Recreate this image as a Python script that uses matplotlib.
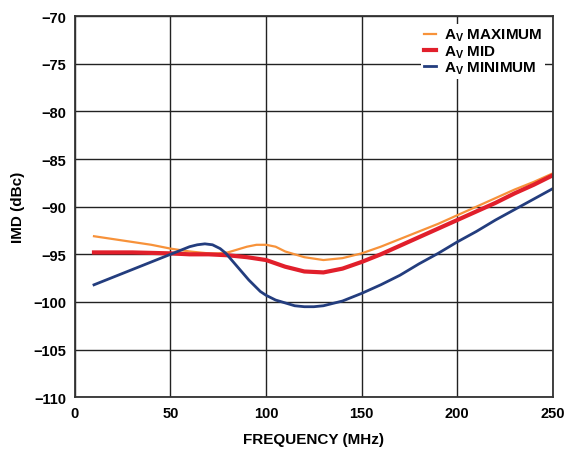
import matplotlib
matplotlib.use("Agg")
import matplotlib.pyplot as plt

plt.rcParams['font.family'] = ['Liberation Sans', 'DejaVu Sans']
plt.rcParams['font.weight'] = 'bold'
plt.rcParams['mathtext.fontset'] = 'custom'
plt.rcParams['mathtext.bf'] = 'Liberation Sans:bold'
plt.rcParams['mathtext.rm'] = 'Liberation Sans:bold'
plt.rcParams['mathtext.default'] = 'bf'

freq_max = [10, 20, 30, 40, 50, 60, 70, 75, 80, 85, 90, 95, 100, 105, 110, 120, 130, 140,
            150, 160, 170, 180, 190, 200, 210, 220, 230, 240, 250]
imd_max = [-93.1, -93.4, -93.7, -94.0, -94.4, -94.7, -94.9, -94.9, -94.8, -94.5, -94.2,
           -94.0, -94.0, -94.2, -94.7, -95.3, -95.6, -95.4, -94.9, -94.2, -93.4, -92.6,
           -91.8, -90.9, -90.0, -89.1, -88.2, -87.4, -86.5]

freq_mid = [10, 30, 50, 60, 70, 80, 90, 100, 110, 120, 130, 140, 150, 160, 170, 180,
            190, 200, 210, 220, 230, 240, 250]
imd_mid = [-94.8, -94.8, -94.9, -95.0, -95.0, -95.1, -95.3, -95.6, -96.3, -96.8, -96.9,
           -96.5, -95.8, -95.0, -94.1, -93.2, -92.3, -91.4, -90.5, -89.6, -88.6, -87.7,
           -86.7]

freq_min = [10, 20, 30, 40, 50, 55, 60, 64, 68, 72, 76, 79, 82, 85, 88, 91, 94, 97, 100,
            105, 110, 115, 120, 125, 130, 140, 150, 160, 170, 180, 190, 200, 210, 220,
            230, 240, 250]
imd_min = [-98.2, -97.4, -96.6, -95.8, -95.0, -94.6, -94.2, -94.0, -93.9, -94.0, -94.4,
           -94.9, -95.6, -96.3, -97.0, -97.7, -98.3, -98.9, -99.3, -99.8, -100.1, -100.4,
           -100.5, -100.5, -100.4, -99.9, -99.1, -98.2, -97.2, -96.0, -94.9, -93.7, -92.6,
           -91.4, -90.3, -89.2, -88.1]

x_ticks = [0, 50, 100, 150, 200, 250]
y_ticks = [-110, -105, -100, -95, -90, -85, -80, -75, -70]

fig = plt.figure(figsize=(5.85, 4.52), dpi=100)
ax = fig.add_axes([0.128, 0.119, 0.817, 0.843])

ax.plot(freq_max, imd_max, color='#F7923A', lw=1.6, label=r'A$_\mathbf{V}$ MAXIMUM')
ax.plot(freq_mid, imd_mid, color='#E11F2B', lw=3.0, label=r'A$_\mathbf{V}$ MID')
ax.plot(freq_min, imd_min, color='#233D7E', lw=2.0, label=r'A$_\mathbf{V}$ MINIMUM')

ax.set_xlim(0, 250)
ax.set_ylim(-110, -70)
ax.set_xticks(x_ticks)
ax.set_yticks(y_ticks)
ax.grid(True, color='#222222', lw=1.0)
ax.set_axisbelow(True)
for s in ax.spines.values():
    s.set_linewidth(1.3)
    s.set_color('#333333')
ax.tick_params(length=0, labelsize=10.5, pad=6)
for lab in ax.get_xticklabels() + ax.get_yticklabels():
    lab.set_fontweight('bold')

ax.set_xlabel('FREQUENCY (MHz)', fontsize=11, fontweight='bold', labelpad=9)
ax.set_ylabel('IMD (dBc)', fontsize=11, fontweight='bold', labelpad=6)

leg = ax.legend(loc='upper right', frameon=True, fontsize=11, handlelength=0.8,
                handletextpad=0.5, labelspacing=0.0, borderpad=0.2,
                borderaxespad=0.5)
leg.get_frame().set_edgecolor('none')
leg.get_frame().set_facecolor('white')
leg.get_frame().set_alpha(1)
for t in leg.get_texts():
    t.set_fontweight('bold')

fig.savefig('out.png', dpi=100)
plt.close(fig)
